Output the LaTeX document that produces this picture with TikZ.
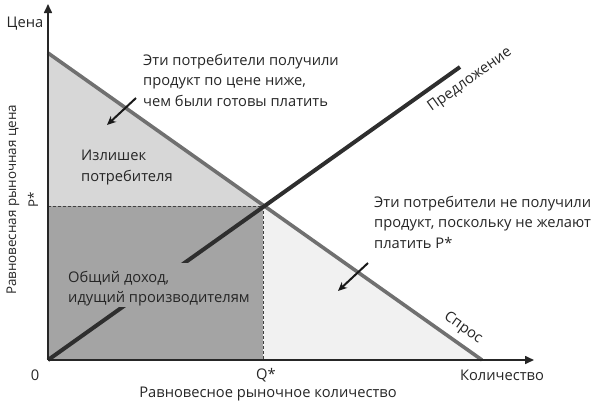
\documentclass[tikz,border=0pt]{standalone}
\usepackage{fontspec}
\setmainfont{Open Sans}
\usetikzlibrary{arrows.meta}
\definecolor{csfill}{HTML}{D7D7D7}
\definecolor{revfill}{HTML}{A4A4A4}
\definecolor{lossfill}{HTML}{F1F1F1}
\definecolor{demcol}{HTML}{707070}
\definecolor{supcol}{HTML}{2E2E2E}
\tikzset{
  lbl/.style={font=\fontsize{14.7}{20.5}\selectfont, text=black!85, inner sep=0pt},
  vlbl/.style={lbl, font=\fontsize{13.4}{16}\selectfont, rotate=90},
  block/.style={lbl, align=left, anchor=north west},
  axisline/.style={line width=1.6pt, black!85, -{Triangle[length=9pt,width=8pt]}},
  demline/.style={line width=3.6pt, demcol},
  supline/.style={line width=4pt, supcol},
  guide/.style={line width=0.9pt, black!75, dash pattern=on 3pt off 2pt},
  note/.style={line width=2pt, black!90, -{Stealth[length=9pt,width=8pt]}}
}
\begin{document}
\begin{tikzpicture}[x=1pt,y=-1pt]
\useasboundingbox (0,0) rectangle (600,408);
\coordinate (O) at (48,360);
\coordinate (Ytop) at (48,4);
\coordinate (Xend) at (534,360);
\coordinate (D0) at (48,53);
\coordinate (D1) at (482,360);
\coordinate (S1) at (460,67);
\coordinate (E) at (263,206);
\coordinate (Pst) at (48,206);
\coordinate (Qst) at (263,360);
% fills
\fill[csfill] (D0) -- (E) -- (Pst) -- cycle;
\fill[revfill] (Pst) -- (E) -- (Qst) -- (O) -- cycle;
\fill[lossfill] (E) -- (D1) -- (Qst) -- cycle;
% guides
\draw[guide] (Pst) -- (E);
\draw[guide] (E) -- (Qst);
% curves
\draw[demline] (D0) -- (D1);
\draw[supline] (O) -- (S1);
% background patch behind the revenue label (hides the supply line there)
\fill[revfill] (62,263) rectangle (256,307);
% axes
\draw[axisline] (O) -- (Ytop);
\draw[axisline] (O) -- (Xend);
% texts
\node[lbl, anchor=base] (price) at (25,27) {Цена};
\node[vlbl] (ylab) at (13,200) {Равновесная рыночная цена};
\node[vlbl] (pstar) at (33,200) {P*};
\node[lbl] (zero) at (35,375) {0};
\node[lbl] (qstar) at (266,375) {Q*};
\node[lbl] (xlab) at (268,394) {Равновесное рыночное количество};
\node[lbl] (qty) at (502,375) {Количество};
\node[lbl, rotate=35.4] (suplab) at (470,80) {Предложение};
\node[lbl, rotate=-35.3] (demlab) at (463,328) {Спрос};
\node[block] (t1) at (143,54) {Эти потребители получили\\продукт по цене ниже,\\чем были готовы платить};
\node[block] (t2) at (81,150) {Излишек\\потребителя};
\node[block] (t3) at (374,196) {Эти потребители не получили\\продукт, поскольку не желают\\платить P*};
\node[block] (t4) at (68,271) {Общий доход,\\идущий производителям};
% annotation arrows
\coordinate (a1s) at (136,98);
\coordinate (a1e) at (107,125);
\coordinate (a2s) at (368,263);
\coordinate (a2e) at (338,291);
\draw[note] (a1s) -- (a1e);
\draw[note] (a2s) -- (a2e);
\end{tikzpicture}
\end{document}
